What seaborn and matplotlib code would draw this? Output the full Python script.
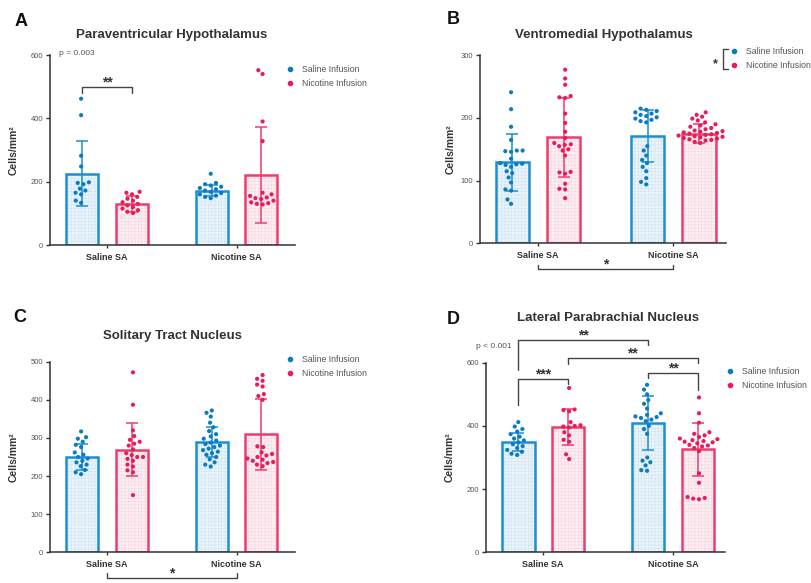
import numpy as np
import pandas as pd
import matplotlib
matplotlib.use('Agg')
import matplotlib.pyplot as plt
import seaborn as sns
from matplotlib.lines import Line2D

groups = ['Saline SA', 'Nicotine SA']
infusions = ['Saline Infusion', 'Nicotine Infusion']

# A - Paraventricular Hypothalamus (cells/mm2)
pvh_sal_sal = [462, 410, 282, 248, 198, 196, 192, 178, 172, 165, 160, 140, 133]
pvh_sal_nic = [168, 165, 160, 152, 146, 140, 135, 130, 125, 120, 115, 110, 105, 101]
pvh_nic_sal = [225, 196, 192, 188, 184, 180, 176, 172, 168, 164, 160, 156, 152, 148]
pvh_nic_nic = [552, 540, 390, 328, 165, 160, 155, 150, 148, 145, 140, 135, 132, 130, 128]
pvh_means = [225, 130, 172, 222]
pvh_sds = [103, 25, 18, 152]

# B - Ventromedial Hypothalamus
vmh_sal_sal = [241, 214, 186, 165, 148, 148, 147, 146, 135, 128, 127, 126, 125, 122,
               115, 112, 105, 97, 86, 84, 70, 63]
vmh_sal_nic = [277, 263, 253, 235, 233, 232, 207, 192, 178, 168, 160, 158, 157, 155,
               150, 148, 140, 114, 113, 111, 95, 87, 86, 72]
vmh_nic_sal = [215, 213, 211, 209, 207, 205, 203, 201, 199, 197, 195, 193,
               155, 148, 140, 133, 128, 122, 115, 104, 98, 94]
vmh_nic_nic = [209, 205, 202, 199, 196, 193, 190, 188, 186, 184, 182, 180, 179, 178, 177,
               176, 175, 174, 173, 172, 171, 170, 169, 168, 167, 166, 165, 164, 162, 160]
vmh_means = [129, 169, 171, 175]
vmh_sds = [46, 63, 41, 15]

# C - Solitary Tract Nucleus
nts_sal_sal = [317, 302, 298, 290, 282, 276, 262, 256, 250, 246, 240, 236, 230, 226, 216, 210, 205]
nts_sal_nic = [472, 387, 320, 305, 295, 290, 285, 280, 270, 260, 255, 250, 250, 245, 240,
               230, 225, 215, 210, 150]
nts_nic_sal = [372, 366, 356, 340, 328, 318, 310, 304, 298, 293, 288, 284, 280, 276, 272,
               268, 264, 260, 256, 250, 244, 236, 230, 225]
nts_nic_nic = [465, 455, 450, 440, 435, 415, 410, 400, 278, 276, 262, 258, 254, 250, 246,
               243, 240, 237, 234, 230, 226]
nts_means = [250, 269, 289, 310]
nts_sds = [33, 70, 40, 93]

# D - Lateral Parabrachial Nucleus
lpb_sal_sal = [412, 398, 390, 382, 374, 366, 360, 354, 348, 342, 336, 330, 324, 318, 312, 308]
lpb_sal_nic = [520, 452, 450, 446, 412, 402, 400, 398, 395, 380, 370, 356, 350, 310, 295]
lpb_nic_sal = [530, 515, 500, 482, 470, 455, 440, 435, 430, 428, 425, 420, 415, 400, 390,
               375, 300, 290, 285, 275, 260, 258]
lpb_nic_nic = [490, 440, 410, 380, 375, 370, 365, 360, 358, 355, 352, 350, 348, 345, 340,
               338, 335, 330, 320, 250, 220, 175, 172, 170, 168]
lpb_means = [348, 396, 409, 326]
lpb_sds = [29, 56, 85, 84]

edge_cols = ['#1b8fd2', '#ee3d6c']
fill_cols = ['#e9f4fb', '#fdeef3']
hatch_cols = ['#cde5f6', '#fad5df']
dot_cols = ['#0b7cc2', '#e91c5a']
text_grey = '#555555'
dark = '#333333'

sns.set_style('ticks')
plt.rcParams['font.family'] = ['Liberation Sans', 'DejaVu Sans']
plt.rcParams['hatch.linewidth'] = 0.4

fig = plt.figure(figsize=(8.12, 5.83), dpi=100)


def draw_panel(ax, pts, means, sds, ymax, ystep, xlim):
    combos = [(g, i) for g in groups for i in infusions]
    rows = []
    for (g, inf), vals in zip(combos, pts):
        for v in vals:
            rows.append((g, inf, v))
    df_pts = pd.DataFrame(rows, columns=['group', 'infusion', 'value'])
    df_bar = pd.DataFrame({'group': [c[0] for c in combos],
                           'infusion': [c[1] for c in combos],
                           'mean': means})

    # hatched light fill
    sns.barplot(df_bar, x='group', y='mean', hue='infusion', order=groups,
                hue_order=infusions, palette=fill_cols, width=0.76, gap=0.35,
                legend=False, ax=ax)
    fills = sorted(ax.patches, key=lambda p: p.get_x())
    for k, p in enumerate(fills):
        p.set_edgecolor(hatch_cols[k % 2])
        p.set_hatch('+++++')
        p.set_linewidth(0)
    n_fill = len(ax.patches)

    # coloured outlines
    sns.barplot(df_bar, x='group', y='mean', hue='infusion', order=groups,
                hue_order=infusions, palette=edge_cols, width=0.76, gap=0.35,
                fill=False, linewidth=1.8, legend=False, ax=ax)
    outlines = sorted(ax.patches[n_fill:], key=lambda p: p.get_x())

    for k, p in enumerate(outlines):
        xc = p.get_x() + p.get_width() / 2
        ax.errorbar(xc, means[k], yerr=sds[k], fmt='none', ecolor=edge_cols[k % 2],
                    elinewidth=1.1, capsize=4.5, capthick=1.1, zorder=2.5)

    n_coll = len(ax.collections)
    sns.swarmplot(df_pts, x='group', y='value', hue='infusion', order=groups,
                  hue_order=infusions, palette=dot_cols, dodge=True, size=3.0,
                  linewidth=0, legend=False, ax=ax, zorder=3)
    # lay the swarm out as if the dots were a bit bigger, so it spreads like the original
    for pc in ax.collections[n_coll:]:
        n = len(pc.get_offsets())
        pc.get_sizes = lambda n=n: np.full(n, 4.0 ** 2)

    ax.set_xlim(*xlim)
    ax.set_ylim(0, ymax)
    ax.set_yticks(np.arange(0, ymax + 1, ystep))
    sns.despine(ax=ax)
    for s in ['left', 'bottom']:
        ax.spines[s].set_linewidth(1.1)
        ax.spines[s].set_color(dark)
    ax.tick_params(axis='y', length=3, width=1, color=dark, labelsize=5.5,
                   labelcolor=text_grey, pad=2)
    ax.tick_params(axis='x', length=2.5, width=1, color=dark, labelsize=6.5,
                   labelcolor=dark, pad=3)
    for lbl in ax.get_xticklabels():
        lbl.set_fontweight('bold')
    ax.set_xlabel('')
    ax.set_ylabel('Cells/mm²', fontsize=7.5, fontweight='bold', color=dark)


def add_legend(ax, x, y):
    handles = [Line2D([], [], marker='o', ls='', color=dot_cols[k], markersize=3.0,
                      label=infusions[k]) for k in range(2)]
    leg = ax.legend(handles=handles, loc='upper left', bbox_to_anchor=(x, y),
                    frameon=False, fontsize=6.3, handlelength=0.8, handletextpad=1.0,
                    labelspacing=0.6, borderpad=0, borderaxespad=0)
    for t in leg.get_texts():
        t.set_color(text_grey)


def bracket(ax, x1, x2, y, y1, y2, stars, fs=10):
    ax.plot([x1, x1, x2, x2], [y1, y, y, y2], color='#444444', lw=1, clip_on=False,
            zorder=4)
    ax.annotate(stars, ((x1 + x2) / 2, y), xytext=(0, 0.5), textcoords='offset points',
                ha='center', va='baseline', fontsize=fs, fontweight='bold', color=dark,
                annotation_clip=False)


axA = fig.add_axes([50 / 812, 1 - 245 / 583, 245 / 812, 190 / 583])
axB = fig.add_axes([480 / 812, 1 - 243.3 / 583, 246 / 812, 188 / 583])
axC = fig.add_axes([50 / 812, 1 - 552.3 / 583, 245 / 812, 190.6 / 583])
axD = fig.add_axes([486 / 812, 1 - 552.3 / 583, 239 / 812, 189.6 / 583])

draw_panel(axA, [pvh_sal_sal, pvh_sal_nic, pvh_nic_sal, pvh_nic_nic],
           pvh_means, pvh_sds, 600, 200, (-0.44, 1.45))
draw_panel(axB, [vmh_sal_sal, vmh_sal_nic, vmh_nic_sal, vmh_nic_nic],
           vmh_means, vmh_sds, 300, 100, (-0.43, 1.39))
draw_panel(axC, [nts_sal_sal, nts_sal_nic, nts_nic_sal, nts_nic_nic],
           nts_means, nts_sds, 500, 100, (-0.44, 1.45))
draw_panel(axD, [lpb_sal_sal, lpb_sal_nic, lpb_nic_sal, lpb_nic_nic],
           lpb_means, lpb_sds, 600, 200, (-0.44, 1.40))

axA.yaxis.set_label_coords(-0.13, 0.5)
axB.yaxis.set_label_coords(-0.10, 0.5)
axC.yaxis.set_label_coords(-0.13, 0.5)
axD.yaxis.set_label_coords(-0.13, 0.5)

add_legend(axA, 0.966, 0.947)
add_legend(axB, 1.018, 1.044)
add_legend(axC, 0.965, 1.035)
add_legend(axD, 1.006, 0.979)

# panel A annotations
axA.text(0.037, 1.01, 'p = 0.003', transform=axA.transAxes, fontsize=6,
         color=text_grey, va='center')
bracket(axA, -0.19, 0.19, 499, 480, 480, '**')

# panel B annotations
bracket(axB, 0, 1, -41, -35, -35, '*')
axB.plot([1.008, 0.988, 0.988, 1.008], [1.034, 1.034, 0.927, 0.927], color='#444444',
         lw=1, transform=axB.transAxes, clip_on=False)
axB.text(0.955, 0.955, '*', transform=axB.transAxes, fontsize=9, fontweight='bold',
         color=dark, ha='center', va='center')

# panel C annotations
bracket(axC, 0, 1, -67, -54, -54, '*')

# panel D annotations
axD.text(-0.042, 1.083, 'p < 0.001', transform=axD.transAxes, fontsize=6,
         color=text_grey, va='center')
bracket(axD, -0.19, 0.81, 672, 577, 656, '**')
bracket(axD, 0.19, 1.19, 615, 596, 599, '**')
bracket(axD, -0.19, 0.19, 548, 466, 532, '***')
bracket(axD, 0.81, 1.19, 567, 551, 513, '**')

# titles and panel letters
titles = [('Paraventricular Hypothalamus', 172, 35),
          ('Ventromedial Hypothalamus', 604, 35),
          ('Solitary Tract Nucleus', 172, 336),
          ('Lateral Parabrachial Nucleus', 608, 318)]
for t, px, py in titles:
    fig.text(px / 812, 1 - py / 583, t, ha='center', va='center', fontsize=9.5,
             fontweight='bold', color=dark)

letters = [('A', 21, 21), ('B', 453, 20), ('C', 20, 318), ('D', 453, 320)]
for t, px, py in letters:
    fig.text(px / 812, 1 - py / 583, t, ha='center', va='center', fontsize=13,
             fontweight='bold', color='#111111')

fig.savefig('out.png', dpi=100)
